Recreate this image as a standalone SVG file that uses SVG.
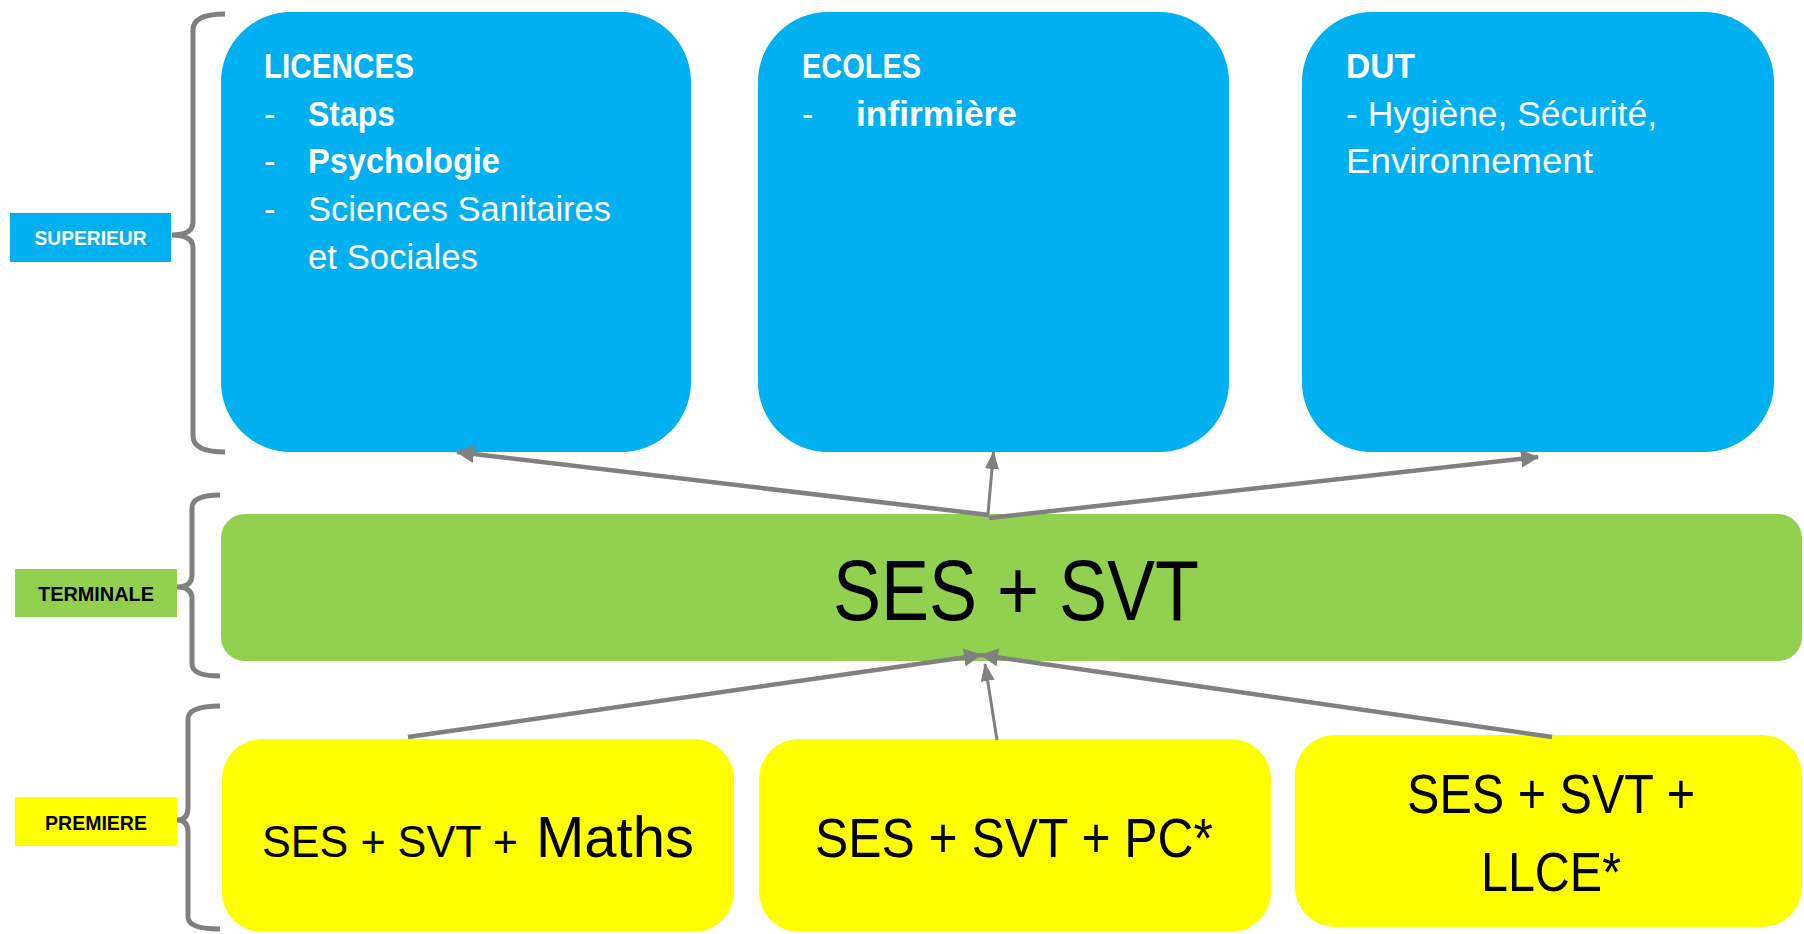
<svg xmlns="http://www.w3.org/2000/svg" width="1804" height="934" viewBox="0 0 1804 934">
<defs>
<style>
text{font-family:"Liberation Sans",Arial,sans-serif}
.blue{fill:#00B0F0}
.green{fill:#92D050}
.yellow{fill:#FFFF00}
.wt{fill:#FFFFFF;font-size:34.5px}
.b{font-weight:bold}
.lbl{font-size:20px;font-weight:bold;text-anchor:middle}
.brace{fill:none;stroke:#808080;stroke-width:5}
.conn{fill:none;stroke:#808080;stroke-width:4.5}
.thin{fill:none;stroke:#808080;stroke-width:3}
.blk{fill:#000000}
</style>
<marker id="ah" viewBox="0 0 18 18" refX="17" refY="9" markerWidth="18" markerHeight="18" markerUnits="userSpaceOnUse" orient="auto">
<path d="M0,0 L18,9 L0,18 z" fill="#808080"/>
</marker>
<marker id="ahs" viewBox="0 0 18 14" refX="17" refY="7" markerWidth="18" markerHeight="14" markerUnits="userSpaceOnUse" orient="auto">
<path d="M0,0 L18,7 L0,14 z" fill="#808080"/>
</marker>
</defs>
<rect width="1804" height="934" fill="#FFFFFF"/>

<g id="label-superieur">
<path class="brace" d="M225,14 Q193,14 193,30 L193,222 Q193,235 172,235 Q193,235 193,248 L193,436 Q193,452 225,452"/>
<rect class="blue" x="10" y="213" width="161" height="49"/>
<text class="lbl" x="90.5" y="245" fill="#FFFFFF" textLength="112" lengthAdjust="spacingAndGlyphs">SUPERIEUR</text>
</g>

<g id="label-terminale">
<path class="brace" d="M220,495 Q192,495 192,508 L192,575 Q192,587 177,587 Q192,587 192,599 L192,664 Q192,676 220,676"/>
<rect class="green" x="15" y="569" width="162" height="48"/>
<text class="lbl blk" x="96" y="601" textLength="116" lengthAdjust="spacingAndGlyphs">TERMINALE</text>
</g>

<g id="label-premiere">
<path class="brace" d="M220,706 Q188,706 188,719 L188,808 Q188,820 177,820 Q188,820 188,832 L188,917 Q188,929 220,929"/>
<rect class="yellow" x="15" y="797" width="162" height="49"/>
<text class="lbl blk" x="96" y="830" textLength="102" lengthAdjust="spacingAndGlyphs">PREMIERE</text>
</g>

<g id="licences">
<rect class="blue" x="221" y="12" width="470" height="440" rx="70" ry="70"/>
<text class="wt b" x="264" y="78" textLength="150" lengthAdjust="spacingAndGlyphs">LICENCES</text>
<text class="wt" x="264" y="126">-</text>
<text class="wt b" x="308" y="126" textLength="87" lengthAdjust="spacingAndGlyphs">Staps</text>
<text class="wt" x="264" y="173">-</text>
<text class="wt b" x="308" y="173" textLength="192" lengthAdjust="spacingAndGlyphs">Psychologie</text>
<text class="wt" x="264" y="221">-</text>
<text class="wt" x="308" y="221" textLength="303" lengthAdjust="spacingAndGlyphs">Sciences Sanitaires</text>
<text class="wt" x="308" y="269" textLength="170" lengthAdjust="spacingAndGlyphs">et Sociales</text>
</g>

<g id="ecoles">
<rect class="blue" x="758" y="12" width="471" height="440" rx="70" ry="70"/>
<text class="wt b" x="802" y="78" textLength="119" lengthAdjust="spacingAndGlyphs">ECOLES</text>
<text class="wt" x="802" y="126">-</text>
<text class="wt b" x="856" y="126" textLength="161" lengthAdjust="spacingAndGlyphs">infirmière</text>
</g>

<g id="dut">
<rect class="blue" x="1302" y="12" width="472" height="440" rx="70" ry="70"/>
<text class="wt b" x="1346" y="78" textLength="69" lengthAdjust="spacingAndGlyphs">DUT</text>
<text class="wt" x="1346" y="126" textLength="311" lengthAdjust="spacingAndGlyphs">- Hygiène, Sécurité,</text>
<text class="wt" x="1346" y="173" textLength="247" lengthAdjust="spacingAndGlyphs">Environnement</text>
</g>

<g id="terminale">
<rect class="green" x="221" y="514" width="1581" height="147" rx="24" ry="24"/>
<text class="blk" x="833" y="620" font-size="85" textLength="366" lengthAdjust="spacingAndGlyphs">SES + SVT</text>
</g>

<g id="premiere-maths">
<rect class="yellow" x="222" y="739" width="512" height="193" rx="40" ry="40"/>
<text class="blk" x="262" y="857" font-size="45" textLength="256" lengthAdjust="spacingAndGlyphs">SES + SVT +</text>
<text class="blk" x="536" y="857" font-size="57" textLength="158" lengthAdjust="spacingAndGlyphs">Maths</text>
</g>

<g id="premiere-pc">
<rect class="yellow" x="759" y="739" width="512" height="193" rx="40" ry="40"/>
<text class="blk" x="815" y="857" font-size="56" textLength="398" lengthAdjust="spacingAndGlyphs">SES + SVT + PC*</text>
</g>

<g id="premiere-llce">
<rect class="yellow" x="1295" y="735" width="507" height="192" rx="40" ry="40"/>
<text class="blk" x="1407" y="813" font-size="55" textLength="288" lengthAdjust="spacingAndGlyphs">SES + SVT +</text>
<text class="blk" x="1481" y="891" font-size="55" textLength="140" lengthAdjust="spacingAndGlyphs">LLCE*</text>
</g>

<g id="connectors">
<line class="conn" x1="989" y1="515" x2="457" y2="452" marker-end="url(#ah)"/>
<line class="thin" x1="988" y1="514" x2="993.5" y2="452" marker-end="url(#ahs)"/>
<line class="conn" x1="989" y1="518" x2="1538" y2="457" marker-end="url(#ah)"/>
<line class="conn" x1="408" y1="737" x2="981" y2="655" marker-end="url(#ah)"/>
<line class="conn" x1="1552" y1="737" x2="981" y2="655" marker-end="url(#ah)"/>
<line class="thin" x1="997" y1="740" x2="985" y2="664" marker-end="url(#ahs)"/>
</g>
</svg>
